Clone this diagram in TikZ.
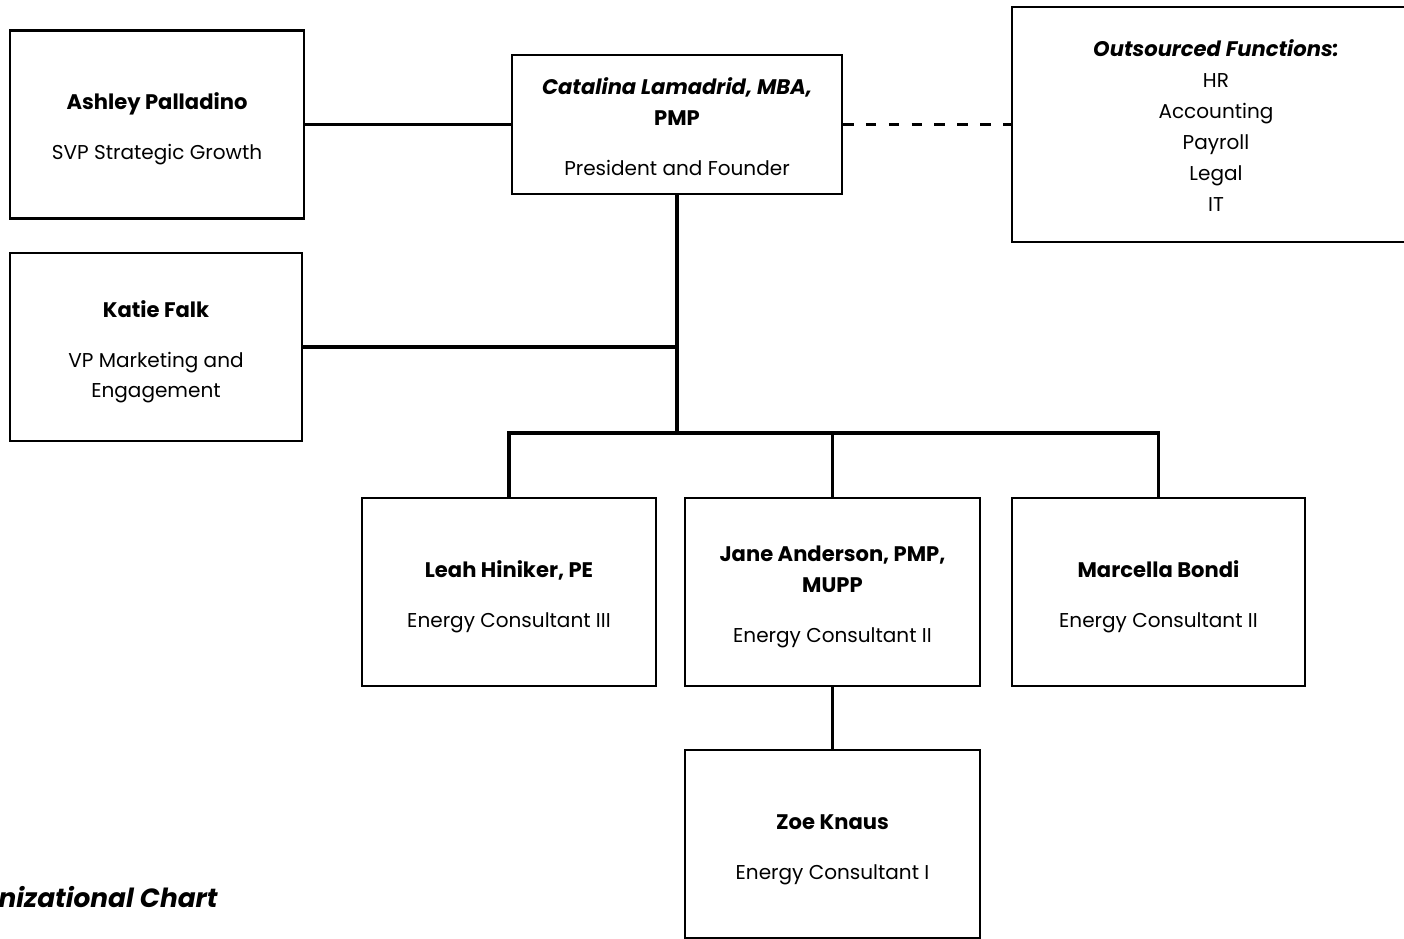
\documentclass[tikz,border=0pt]{standalone}
\usepackage{fontspec}
\setmainfont{Poppins}
\newcommand\nmb[1]{{\bfseries\fontsize{12}{17.6}\selectfont #1}}
\newcommand\nmi[1]{{\bfseries\itshape\fontsize{12}{17.6}\selectfont #1}}
\begin{document}
\begin{tikzpicture}[x=0.02cm,y=-0.02cm,
  box/.style={draw,line width=1.3pt,inner sep=0pt},
  txt/.style={align=center,inner sep=0pt,font=\fontsize{11.4}{17.6}\selectfont},
  link/.style={line width=2pt},
  dashlink/.style={line width=2pt,dash pattern=on 6pt off 7pt}]
\useasboundingbox (0,0) rectangle (1404,939);
% boxes
\node[box,minimum width=5.88cm,minimum height=3.76cm] (ashley) at (157,124.5) {};
\node[box,minimum width=6.6cm,minimum height=2.78cm] (catalina) at (677,124.5) {};
\node[box,minimum width=8.16cm,minimum height=4.7cm] (outs) at (1216,124.5) {};
\node[box,minimum width=5.84cm,minimum height=3.76cm] (katie) at (156,347) {};
\node[box,minimum width=5.88cm,minimum height=3.76cm] (leah) at (509,592) {};
\node[box,minimum width=5.9cm,minimum height=3.76cm] (jane) at (832.5,592) {};
\node[box,minimum width=5.86cm,minimum height=3.76cm] (marcella) at (1158.5,592) {};
\node[box,minimum width=5.9cm,minimum height=3.76cm] (zoe) at (832.5,844) {};
% texts
\node[txt] (ashleyt) at ([yshift=-2.6pt]ashley.center)
  {\nmb{Ashley Palladino}\\[10.7pt]SVP Strategic Growth};
\node[txt] (catalinat) at ([yshift=-1.2pt]catalina.center)
  {\nmi{Catalina Lamadrid, MBA,}\\\nmb{PMP}\\[10.7pt]President and Founder};
\node[txt] (outst) at ([yshift=-0.5pt]outs.center)
  {\nmi{Outsourced Functions:}\\HR\\Accounting\\Payroll\\Legal\\IT};
\node[txt] (katiet) at ([yshift=-2.8pt]katie.center)
  {\nmb{Katie Falk}\\[10.7pt]VP Marketing and\\Engagement};
\node[txt] (leaht) at ([yshift=-2.8pt]leah.center)
  {\nmb{Leah Hiniker, PE}\\[10.7pt]Energy Consultant III};
\node[txt] (janet) at ([yshift=-2.8pt]jane.center)
  {\nmb{Jane Anderson, PMP,}\\\nmb{MUPP}\\[10.7pt]Energy Consultant II};
\node[txt] (marcellat) at ([yshift=-2.8pt]marcella.center)
  {\nmb{Marcella Bondi}\\[10.7pt]Energy Consultant II};
\node[txt] (zoet) at ([yshift=-3.2pt]zoe.center)
  {\nmb{Zoe Knaus}\\[10.7pt]Energy Consultant I};
\node[anchor=east,inner sep=0pt,font=\fontsize{15}{17}\selectfont\bfseries\itshape] (caption) at (218,897) {nizational Chart};
% connectors
\coordinate (bus) at (677,433);
\coordinate (katiej) at (677,347);
\draw[link] (ashley.east) -- (catalina.west);
\draw[dashlink] (catalina.east) -- (outs.west);
\draw[link] (catalina.south) -- (bus);
\draw[link] (katie.east) -- (katiej);
\draw[link] (leah.north) |- (bus) -| (marcella.north);
\draw[link] (jane.north) -- (jane.north |- bus);
\draw[link] (jane.south) -- (zoe.north);
\end{tikzpicture}
\end{document}
